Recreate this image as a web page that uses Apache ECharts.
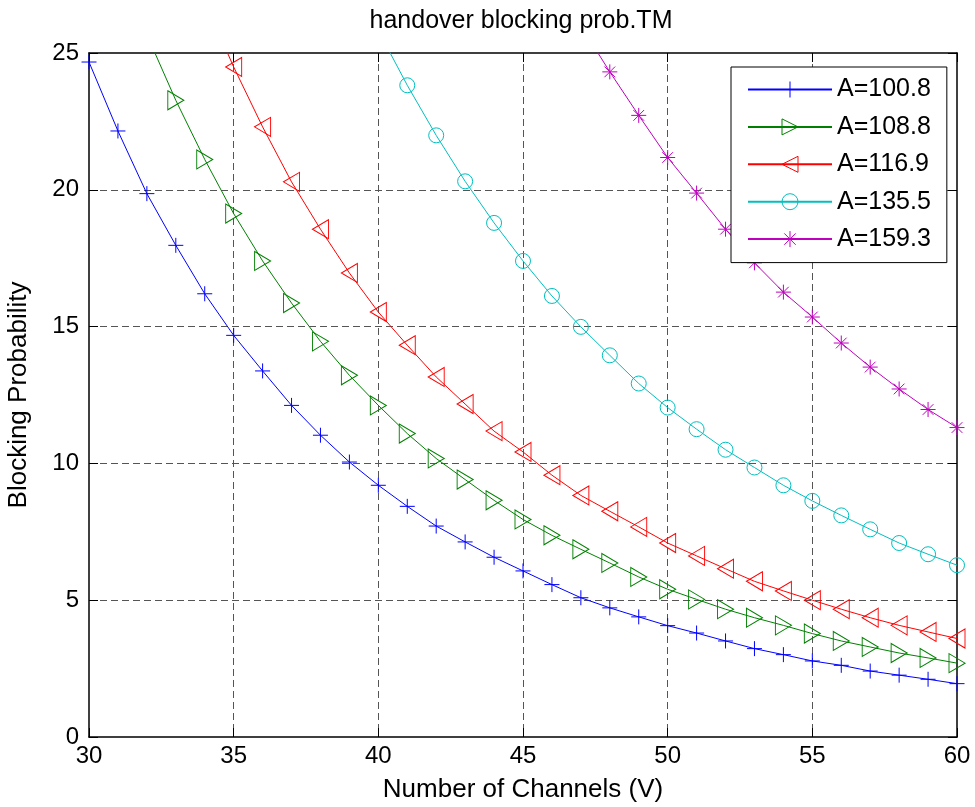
<!DOCTYPE html>
<html>
<head>
<meta charset="utf-8">
<title>handover blocking prob.TM</title>
<script src="https://cdn.jsdelivr.net/npm/echarts@6/dist/echarts.min.js"></script>
<style>
  html, body { margin: 0; padding: 0; background: #ffffff; }
  #chart { width: 975px; height: 807px; }
</style>
</head>
<body>
<div id="chart"></div>
<script>
// Number of channels V (x axis)
const channels = [30, 31, 32, 33, 34, 35, 36, 37, 38, 39,
                  40, 41, 42, 43, 44, 45, 46, 47, 48, 49,
                  50, 51, 52, 53, 54, 55, 56, 57, 58, 59, 60];

// Handover blocking probability for each offered traffic A (null = no point)
const blockA100_8 = [24.67, 22.15, 19.86, 17.97, 16.20, 14.68, 13.38, 12.12, 11.03, 10.05,
                     9.20, 8.43, 7.71, 7.13, 6.57, 6.07, 5.57, 5.09, 4.72, 4.39,
                     4.07, 3.80, 3.51, 3.23, 3.01, 2.78, 2.62, 2.41, 2.26, 2.11, 1.95];
const blockA108_8 = [null, null, 25.67, 23.27, 21.11, 19.13, 17.40, 15.86, 14.46, 13.22,
                     12.12, 11.09, 10.18, 9.41, 8.65, 7.95, 7.37, 6.86, 6.36, 5.85,
                     5.40, 5.03, 4.67, 4.36, 4.08, 3.78, 3.51, 3.29, 3.07, 2.89, 2.70];
const blockA116_9 = [null, null, null, null, 26.9, 24.49, 22.30, 20.29, 18.56, 16.96,
                     15.53, 14.32, 13.16, 12.17, 11.18, 10.42, 9.57, 8.83, 8.25, 7.68,
                     7.09, 6.62, 6.15, 5.69, 5.34, 5.00, 4.67, 4.36, 4.08, 3.84, 3.60];
const blockA135_5 = [null, null, null, null, null, null, null, null, null, null,
                     25.82, 23.82, 21.99, 20.31, 18.79, 17.40, 16.12, 14.99, 13.95, 12.92,
                     12.04, 11.25, 10.50, 9.85, 9.20, 8.63, 8.10, 7.59, 7.09, 6.68, 6.28];
const blockA159_3 = [null, null, null, null, null, null, null, null, null, null,
                     null, null, null, null, null, null, null, 26.0, 24.31, 22.72,
                     21.18, 19.88, 18.56, 17.33, 16.26, 15.35, 14.40, 13.52, 12.72, 11.97, 11.31];

// Legend labels
const seriesNames = ['A=100.8', 'A=108.8', 'A=116.9', 'A=135.5', 'A=159.3'];

// Axis ranges and tick steps
const xRange = [30, 60];
const xStep = 5;
const yRange = [0, 25];
const yStep = 5;

const FONT = '"Liberation Sans", Arial, Helvetica, sans-serif';

// Outline marker shapes (stroked, see-through)
const MARK_PLUS = 'path://M0,8 L16,8 M8,0 L8,16';
const MARK_TRI_RIGHT = 'path://M0,0 L17,10 L0,20 Z';
const MARK_TRI_LEFT = 'path://M17,0 L0,10 L17,20 Z';
const MARK_CIRCLE = 'path://M0,10 A10,10 0 1 1 20,10 A10,10 0 1 1 0,10 Z';
const MARK_STAR = 'path://M8,0 L8,16 M0,8 L16,8 M2.3,2.3 L13.7,13.7 M13.7,2.3 L2.3,13.7';

function pairs(values) {
  const out = [];
  channels.forEach(function (c, i) {
    if (values[i] !== null) out.push([c, values[i]]);
  });
  return out;
}

function curve(name, values, color, symbol, size) {
  return {
    name: name,
    type: 'line',
    xAxisIndex: 0,
    yAxisIndex: 0,
    data: pairs(values),
    symbol: symbol,
    symbolSize: size,
    showAllSymbol: true,
    clip: true,
    lineStyle: { color: color, width: 1 },
    itemStyle: { color: 'transparent', borderColor: color, borderWidth: 1 },
    emphasis: { disabled: true }
  };
}

const gridLine = { show: true, showMinLine: false, showMaxLine: false,
                   lineStyle: { color: '#555555', width: 1, type: [7, 4] } };
const frameLine = { show: true, onZero: false, lineStyle: { color: '#000000', width: 1.5 } };
const innerTick = { show: true, inside: true, length: 9, lineStyle: { color: '#000000', width: 1 } };

const chart = echarts.init(document.getElementById('chart'), null, { renderer: 'canvas' });

chart.setOption({
  animation: false,
  backgroundColor: '#ffffff',
  textStyle: { fontFamily: FONT },
  title: {
    text: 'handover blocking prob.TM',
    left: 516,
    top: 4,
    textAlign: 'center',
    textStyle: { fontFamily: FONT, fontSize: 25, fontWeight: 'normal', color: '#000000' }
  },
  grid: {
    left: 89, right: 18, top: 53, bottom: 70,
    containLabel: false,
    outerBoundsMode: 'none'
  },
  legend: {
    data: seriesNames,
    orient: 'vertical',
    left: 731,
    top: 67,
    padding: [10, 16, 11, 16],
    itemWidth: 84,
    itemHeight: 20,
    itemGap: 12.4,
    selectedMode: false,
    backgroundColor: '#ffffff',
    borderColor: '#000000',
    borderWidth: 1,
    itemStyle: { borderWidth: 1 },
    textStyle: { fontFamily: FONT, fontSize: 25, color: '#000000' }
  },
  xAxis: [
    {
      type: 'value',
      position: 'bottom',
      min: xRange[0], max: xRange[1], interval: xStep,
      axisLine: frameLine,
      axisTick: innerTick,
      axisLabel: { fontFamily: FONT, fontSize: 24, color: '#000000', margin: 7 },
      splitLine: gridLine,
      name: 'Number of Channels (V)',
      nameLocation: 'middle',
      nameGap: 40,
      nameTextStyle: { fontFamily: FONT, fontSize: 26, color: '#000000' }
    },
    {
      type: 'value',
      position: 'top',
      min: xRange[0], max: xRange[1], interval: xStep,
      axisLine: frameLine,
      axisTick: innerTick,
      axisLabel: { show: false },
      splitLine: { show: false }
    }
  ],
  yAxis: [
    {
      type: 'value',
      position: 'left',
      min: yRange[0], max: yRange[1], interval: yStep,
      axisLine: frameLine,
      axisTick: innerTick,
      axisLabel: { fontFamily: FONT, fontSize: 24, color: '#000000', margin: 10 },
      splitLine: gridLine,
      name: 'Blocking Probability',
      nameLocation: 'middle',
      nameGap: 57,
      nameTextStyle: { fontFamily: FONT, fontSize: 26, color: '#000000' }
    },
    {
      type: 'value',
      position: 'right',
      min: yRange[0], max: yRange[1], interval: yStep,
      axisLine: frameLine,
      axisTick: innerTick,
      axisLabel: { show: false },
      splitLine: { show: false }
    }
  ],
  series: [
    curve(seriesNames[0], blockA100_8, '#0000ff', MARK_PLUS, 15),
    curve(seriesNames[1], blockA108_8, '#008000', MARK_TRI_RIGHT, [16, 19]),
    curve(seriesNames[2], blockA116_9, '#ff0000', MARK_TRI_LEFT, [16, 19]),
    curve(seriesNames[3], blockA135_5, '#00bfbf', MARK_CIRCLE, 15),
    curve(seriesNames[4], blockA159_3, '#bf00bf', MARK_STAR, 15)
  ]
});
</script>
</body>
</html>
